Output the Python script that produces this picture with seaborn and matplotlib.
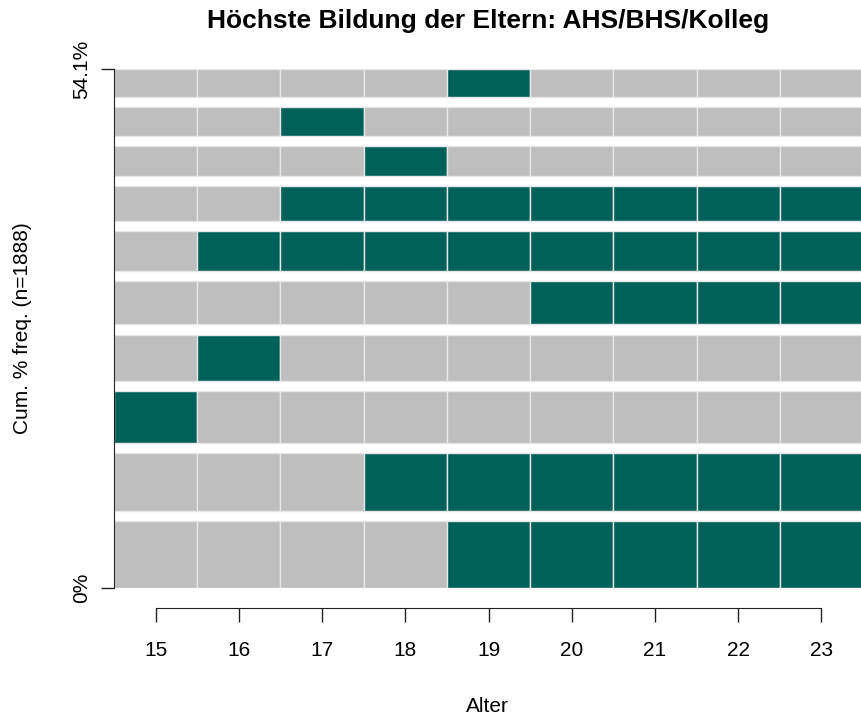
import matplotlib
matplotlib.use("Agg")
import matplotlib.pyplot as plt
import seaborn as sns
import numpy as np

sns.set_style("white")
plt.rcParams['font.family'] = ['Liberation Sans', 'DejaVu Sans']
plt.rcParams['text.color'] = 'black'
plt.rcParams['axes.labelcolor'] = 'black'
plt.rcParams['xtick.color'] = 'black'
plt.rcParams['ytick.color'] = 'black'

# Data
years = [15, 16, 17, 18, 19, 20, 21, 22, 23]
# sequences bottom -> top; 1 = AHS/BHS/Kolleg (green), 0 = other (gray)
seq_rows = [
    [0, 0, 0, 0, 1, 1, 1, 1, 1],
    [0, 0, 0, 1, 1, 1, 1, 1, 1],
    [1, 0, 0, 0, 0, 0, 0, 0, 0],
    [0, 1, 0, 0, 0, 0, 0, 0, 0],
    [0, 0, 0, 0, 0, 1, 1, 1, 1],
    [0, 1, 1, 1, 1, 1, 1, 1, 1],
    [0, 0, 1, 1, 1, 1, 1, 1, 1],
    [0, 0, 0, 1, 0, 0, 0, 0, 0],
    [0, 0, 1, 0, 0, 0, 0, 0, 0],
    [0, 0, 0, 0, 1, 0, 0, 0, 0],
]
freq_pct = [8.42, 7.39, 6.49, 5.91, 5.52, 5.06, 4.39, 3.76, 3.63, 3.54]
state_colors = ["#BEBEBE", "#00615A"]
n_total = 1888

gap = 1.283
fig = plt.figure(figsize=(8.61, 7.18), dpi=100)
ax = fig.add_axes([114/861, 130/718, (861-114)/861, (588-69)/718])

bottom = 0.0
for row, h in zip(seq_rows, freq_pct):
    cols = [state_colors[s] for s in row]
    ax.bar(years, [h]*len(years), width=1.0, bottom=bottom, color=cols,
           edgecolor="#E6E6E6", linewidth=1.0)
    bottom += h + gap
top = bottom - gap

ax.set_xlim(14.5, 14.5 + (861-113.4)/83.3)
ax.set_ylim(0, top)

for s in ['top', 'right']:
    ax.spines[s].set_visible(False)
ax.spines['left'].set_bounds(0, top)
ax.spines['left'].set_color("#222222")
ax.spines['bottom'].set_position(('outward', 14.5))
ax.spines['bottom'].set_bounds(15, 23)
ax.spines['bottom'].set_color("#222222")

ax.set_xticks(years)
ax.set_xticklabels([str(y) for y in years])
ax.set_yticks([0, top])
ax.set_yticklabels(["0%", f"{sum(freq_pct):.1f}%"], rotation=90, va='center')
ax.tick_params(axis='x', bottom=True, length=10, width=1, color="#222222", labelsize=15, pad=14)
ax.tick_params(axis='y', left=True, length=9.5, width=1, color="#222222", labelsize=15, pad=7)

ax.set_xlabel("Alter", fontsize=15, labelpad=26)
ax.set_ylabel(f"Cum. % freq. (n={n_total})", fontsize=15, labelpad=29)
fig.text(488/861, 1 - 21/718, "Höchste Bildung der Eltern: AHS/BHS/Kolleg",
         ha='center', va='center', fontsize=19, fontweight='bold')

fig.savefig("out.png", dpi=100)
